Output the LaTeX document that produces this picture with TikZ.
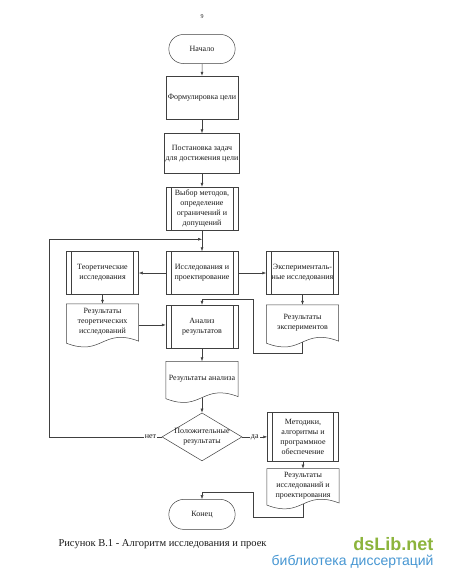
\documentclass[tikz,border=0pt]{standalone}
\usepackage{fontspec}
\setmainfont{Liberation Serif}
\newfontfamily\wmfont{Liberation Sans}
\usepackage{xcolor}
\usepackage{tikz}
\usetikzlibrary{arrows.meta,positioning,shapes.geometric,shapes.misc}

\definecolor{wmgreen}{RGB}{140,180,60}
\definecolor{wmblue}{RGB}{70,150,210}

\begin{document}
\begin{tikzpicture}[
  x=1pt, y=1pt,
  font=\fontsize{8}{10}\selectfont,
  every node/.style={text=black!90},
  box/.style={draw=black!75, line width=0.5pt, align=center, minimum width=72pt, minimum height=43pt, inner sep=1pt},
  proc/.style={box, path picture={
      \draw[black!75, line width=0.5pt] ([xshift=5pt]path picture bounding box.north west) -- ([xshift=5pt]path picture bounding box.south west)
                      ([xshift=-5pt]path picture bounding box.north east) -- ([xshift=-5pt]path picture bounding box.south east);}},
  term/.style={draw=black!75, line width=0.5pt, rounded rectangle, minimum width=73pt, minimum height=29pt},
  doc/.style={align=center, minimum width=72pt, minimum height=34pt, inner sep=1pt},
  docline/.style={draw=black!75, line width=0.5pt},
  decision/.style={draw=black!75, line width=0.5pt, diamond, minimum width=80pt, minimum height=48pt, inner sep=0pt},
  line/.style={draw=black!75, line width=0.5pt, -{Latex[length=4pt,width=3pt]}}
]
\useasboundingbox (0,0) rectangle (450,-582);
\node[font=\fontsize{6}{7}\selectfont] (page) at (202,-17) {9};

% main column
\node[term] (start) at (202,-49) {Начало};
\node[box, below=12pt of start] (goal) {Формулировка цели};
\node[box, below=14pt of goal, minimum height=40pt] (tasks) {Постановка задач\\для достижения цели};
\node[proc, below=13pt of tasks] (methods) {Выбор методов,\\определение\\ограничений и\\допущений};
\coordinate[below=9pt of methods] (merge);
\coordinate[left=153pt of merge] (loop);
\node[proc, below=21pt of methods] (research) {Исследования и\\проектирование};
\node[proc, left=27pt of research] (theory) {Теоретические\\исследования};
\node[proc, right=28pt of research] (exper) {Эксперименталь-\\ные исследования};
\node[doc, below=9pt of theory, minimum height=36pt] (theoryres) {Результаты\\теоретических\\исследований};
\node[proc, below=10pt of research] (analysis) {Анализ\\результатов};
\node[doc, below=10pt of exper, minimum height=35pt] (experres) {Результаты\\экспериментов};
\node[doc, below=13pt of analysis] (analysisres) {Результаты анализа};
\node[decision, below=17pt of analysisres, label={[align=center]center:Положительные\\результаты}] (check) {};
\node[proc, right=25pt of check, minimum width=71pt, minimum height=49pt] (software) {Методики,\\алгоритмы и\\программное\\обеспечение};
\node[doc, below=7pt of software, minimum height=33pt] (finalres) {Результаты\\исследований и\\проектирования};
\node[term, below=38pt of check, minimum height=30pt] (stop) {Конец};

% document outlines, wavy bottom below the text
\foreach \n in {theoryres,experres,analysisres,finalres}
  \draw[docline] (\n.north west) -- (\n.north east) -- ([yshift=-1pt]\n.south east)
    .. controls ([xshift=36pt,yshift=13pt]\n.south west) and ([xshift=36pt,yshift=-17pt]\n.south west)
    .. ([yshift=-3pt]\n.south west) -- cycle;

% connectors
\draw[line] (start) -- (goal);
\draw[line] (goal) -- (tasks);
\draw[line] (tasks) -- (methods);
\draw[line] (methods) -- (research);
\draw[line] (research) -- (theory);
\draw[line] (research) -- (exper);
\draw[line] (theory) -- (theoryres);
\draw[line] (exper) -- (experres);
\draw[line] ([yshift=-3pt]theoryres.east) -- ([yshift=-3pt]theoryres.east -| analysis.west);
\draw[line] ([yshift=-2pt]experres.south) -- ++(0,-11) -| ([xshift=15pt,yshift=6pt]analysis.north east) -| (analysis.north);
\draw[line] (analysis) -- (analysisres);
\draw[line] ([yshift=-2pt]analysisres.south) -- (check);
\draw[line] (check) -- node[fill=white, inner sep=1pt]{да} (software);
\draw[line] (check.west) -- node[fill=white, inner sep=1pt, pos=0.1]{нет} (check.west -| loop) -- (loop) -- (merge);
\draw[line] (software) -- (finalres);
\draw[line] ([yshift=-2pt]finalres.south) -- ++(0,-13) -| ([xshift=51pt,yshift=7pt]stop.north) -| (stop.north);

% caption
\node[anchor=west, font=\fontsize{10.5}{12}\selectfont] (caption) at (55,-544) {Рисунок В.1 - Алгоритм исследования и проек};
\node[anchor=east, font=\wmfont\bfseries\fontsize{18}{20}\selectfont, text=wmgreen] (wmname) at (437,-544) {dsLib.net};
\node[anchor=east, font=\wmfont\fontsize{14}{16}\selectfont, text=wmblue] (wmsub) at (437,-562) {библиотека диссертаций};
\end{tikzpicture}
\end{document}
